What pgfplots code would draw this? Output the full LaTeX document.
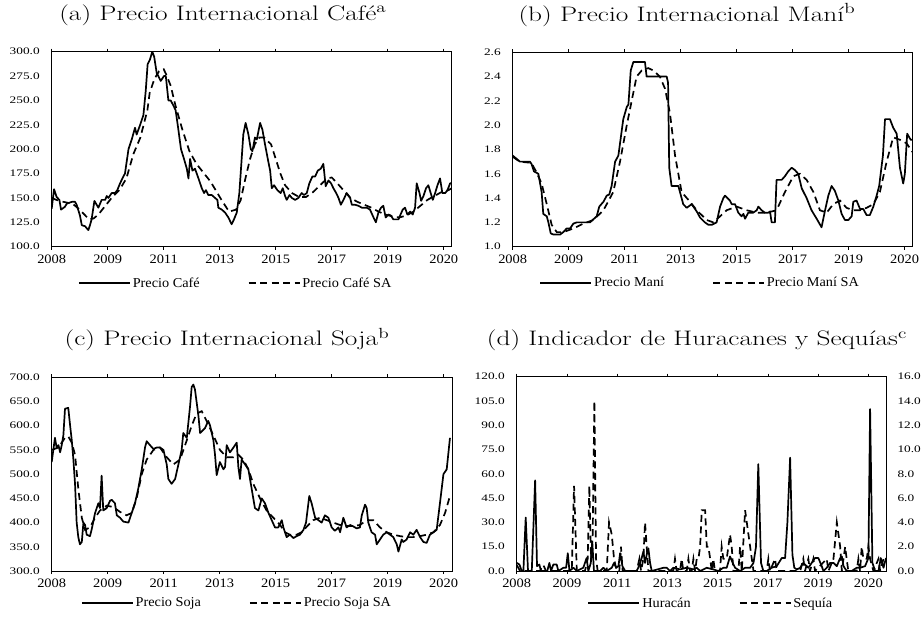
\documentclass[border=0pt]{standalone}
\usepackage{fontspec}
\usepackage{graphicx}
\usepackage{pgfplots}
\pgfplotsset{compat=1.18}
\newfontfamily\garaX{Liberation Serif}[FakeStretch=1.12]
\newfontfamily\garaY{Liberation Serif}[FakeStretch=1.33]
\newfontfamily\garaL{Liberation Serif}[FakeStretch=1.05]
\newcommand{\ttl}[1]{\scalebox{1.3}[1]{#1}}
\pgfplotsset{
  myax/.style={
    scale only axis, anchor=south west,
    xmin=0,
    xtick={0,24,48,72,96,120,144,168},
    xticklabels={2008,2009,2011,2013,2015,2017,2019,2020},
    /pgf/number format/assume math mode=true,
    yticklabel style={/pgf/number format/fixed, /pgf/number format/fixed zerofill, /pgf/number format/precision=1, font=\garaY\fontsize{10}{12}\selectfont, black},
    xticklabel style={font=\garaX\fontsize{12.9}{14}\selectfont, black, yshift=-1.5pt},
    tick align=outside, major tick length=3pt,
    xtick style={black, line width=0.8pt},
    ytick style={draw=none},
    axis line style={line width=0.9pt, black},
    title style={font=\fontsize{21}{25}\selectfont, anchor=base},
    legend style={draw=none, fill=none, font=\garaL\fontsize{13.6}{15}\selectfont,
      anchor=center, /tikz/every even column/.append style={column sep=46pt}},
    legend columns=2,
    legend image code/.code={\draw[#1] (0pt,0pt) -- (51pt,0pt);},
  },
  cur/.style={black, no marks, line width=1.7pt, line join=round},
  sa/.style={black, no marks, line width=1.7pt, dash pattern=on 7pt off 4.5pt},
}
\begin{document}
\begin{tikzpicture}
\useasboundingbox (0,0) rectangle (923pt,619pt);
% ---------------- (a) Cafe
\begin{axis}[myax, at={(51.7pt,372.3pt)}, width=400pt, height=195pt,
  xmax=171.4, ymin=100, ymax=300, ytick={100,125,...,300},
  yticklabel style={xshift=-5.5pt},
  title={\ttl{(a) Precio Internacional Café\textsuperscript{a}}},
  title style={at={(0.428,1)}, yshift=25.2pt},
  legend style={at={(0.46,-0.186)}}]
\addplot[cur] coordinates {(0,139)(1,159)(2.1,151)(3.3,148)(4,138)(5.7,141)(6.4,144)(8.6,146)(10,146)(10.7,143)(12.1,132)(12.9,122)(14.3,121)(15.7,117)(16.4,122)(17.1,128)(18.3,147)(20,140)(21.4,148)(22.9,148)(23.6,152)(24.3,150)(25.7,155)(27.1,155)(28.1,158)(29.3,165)(30.7,172)(31.4,175)(32.9,200)(34.3,210)(35.7,222)(36.4,215)(37.9,225)(39.3,235)(40.3,260)(41.1,287)(42.1,292)(43.1,300)(43.9,295)(45,278)(45.7,275)(46.7,270)(48.1,275)(48.9,275)(50,250)(51,250)(52.1,245)(53.1,240)(54,225)(55.4,200)(56.7,190)(57.9,180)(58.6,170)(59.3,190)(60.3,178)(61.4,180)(62.9,170)(64.3,160)(65.3,155)(66.1,158)(67.1,153)(68.6,153)(70,150)(71,148)(71.4,140)(72.9,138)(74.3,135)(75.7,130)(77.1,123)(78.1,128)(79.3,135)(80.4,155)(81.4,190)(82.1,215)(83.1,227)(84.3,215)(85.3,200)(86,198)(87.1,212)(87.9,210)(89.3,227)(90.3,220)(91.4,205)(92.6,190)(93.6,178)(94.3,160)(95.3,163)(96.7,158)(98.1,155)(99,160)(100,152)(100.7,148)(101.9,153)(102.9,150)(104.3,148)(105.7,150)(107.1,155)(108.1,153)(109.3,155)(110.4,165)(111.7,172)(112.9,172)(114,178)(115.3,180)(116.4,185)(117.4,162)(118.6,168)(119.7,165)(120.7,160)(121.9,155)(122.9,150)(123.9,143)(125,148)(126.4,155)(127.9,150)(128.6,143)(130,143)(131.4,142)(132.9,140)(135,140)(136.4,138)(137.9,130)(138.9,125)(140,135)(141.1,140)(142.1,142)(143.1,130)(144.3,133)(145.3,132)(146.4,128)(148.6,128)(149.3,132)(150.4,138)(151.4,140)(152.4,133)(153.6,136)(154.7,133)(155.7,140)(156.4,165)(157.6,155)(158.3,147)(159.3,152)(160.4,160)(161.4,163)(162.4,155)(163.3,148)(164.3,155)(165.3,163)(166.4,170)(167.4,155)(168.6,155)(169.6,158)(170.7,165)(171.4,165)};
\addlegendentry{Precio Café}
\addplot[sa] coordinates {(0,150)(2,148)(5,146)(9,144)(12,138)(14,133)(16,128)(18,129)(20,133)(21,136)(24,145)(26,151)(29,158)(32,170)(35,195)(38,212)(41,240)(42,258)(44,272)(46,280)(48,282)(49,277)(51,265)(53,245)(56,220)(59,198)(62,185)(65,176)(68,167)(71,155)(73,147)(76,136)(79,138)(81,148)(83,170)(85,190)(87,205)(89,212)(91,212)(94,205)(96,190)(98,175)(100,163)(103,155)(106,151)(109,151)(112,156)(115,163)(118,170)(120,171)(122,166)(125,158)(128,150)(131,146)(134,143)(137,140)(140,136)(143,133)(146,131)(149,130)(152,132)(155,136)(158,142)(161,148)(164,152)(167,156)(170,158)(171.4,160)};
\addlegendentry{Precio Café SA}
\end{axis}
% ---------------- (b) Mani
\begin{axis}[myax, at={(512.7pt,372.3pt)}, width=399.6pt, height=194.4pt,
  xmax=171.3, ymin=1.0, ymax=2.6, ytick={1.0,1.2,...,2.61},
  yticklabel style={xshift=-5.5pt},
  title={\ttl{(b) Precio Internacional Maní\textsuperscript{b}}},
  title style={at={(0.436,1)}, yshift=25.2pt},
  legend style={at={(0.469,-0.186)}}]
\addplot[cur] coordinates {(0,1.75)(3.1,1.70)(7.4,1.70)(8.1,1.68)(9.1,1.62)(11,1.60)(12.4,1.45)(13.1,1.27)(14.6,1.25)(15.3,1.20)(16.3,1.11)(17.4,1.10)(20.3,1.10)(21.7,1.12)(23.1,1.15)(24.6,1.15)(26,1.19)(27.4,1.20)(33.1,1.20)(36,1.25)(37.1,1.33)(38.9,1.37)(40.3,1.42)(41.4,1.43)(42.4,1.50)(43.9,1.70)(45.3,1.75)(47.4,2.05)(48.9,2.15)(49.6,2.17)(50.6,2.45)(51.7,2.52)(56.7,2.52)(57.4,2.40)(66,2.40)(66.6,2.35)(67.1,1.65)(68.1,1.50)(71,1.50)(73.1,1.35)(74.6,1.32)(76.7,1.35)(78.9,1.29)(80.3,1.24)(82.4,1.20)(83.9,1.18)(85.3,1.18)(87.4,1.20)(88.9,1.33)(90.3,1.40)(91,1.42)(93.1,1.38)(93.9,1.35)(95.3,1.35)(96.7,1.28)(98.1,1.25)(98.9,1.27)(99.6,1.23)(101,1.28)(103.1,1.28)(104.6,1.30)(105.3,1.33)(106.7,1.30)(108.1,1.28)(109.6,1.28)(110.3,1.29)(111,1.20)(112.4,1.20)(113.1,1.55)(115.3,1.55)(116.7,1.58)(118.1,1.62)(119.6,1.65)(121,1.63)(122.4,1.60)(123.9,1.48)(126,1.40)(128.1,1.30)(130.3,1.23)(132.4,1.16)(133.9,1.30)(135.3,1.42)(136.7,1.50)(138.1,1.46)(139.6,1.38)(141,1.27)(142.4,1.22)(143.9,1.22)(145.3,1.25)(146,1.37)(147.4,1.38)(148.9,1.31)(150.3,1.31)(151.7,1.26)(153.1,1.26)(154.6,1.33)(156,1.42)(157.1,1.50)(158.7,1.75)(159.6,2.05)(161.7,2.05)(163.1,1.98)(164.6,1.93)(166,1.65)(167.4,1.52)(168.1,1.60)(169.1,1.93)(170.6,1.88)(171.3,1.88)};
\addlegendentry{Precio Maní}
\addplot[sa] coordinates {(0,1.74)(3,1.70)(8,1.69)(10,1.62)(12.4,1.52)(14.6,1.35)(16.7,1.18)(18.9,1.12)(21.7,1.12)(26,1.15)(30.3,1.19)(34.6,1.22)(38.9,1.30)(43.1,1.45)(46,1.70)(48.9,2.00)(51,2.20)(53.1,2.40)(55.3,2.45)(58.1,2.47)(60.3,2.45)(63.1,2.40)(65.3,2.30)(67.4,2.10)(69.6,1.75)(72.4,1.45)(76,1.37)(78.9,1.30)(83.1,1.22)(86,1.20)(88.9,1.25)(91.7,1.30)(96,1.33)(100.3,1.30)(104.6,1.28)(108.9,1.28)(113.1,1.30)(116.7,1.45)(120.3,1.58)(123.1,1.60)(126,1.55)(128.9,1.45)(131.7,1.30)(134.6,1.28)(137.4,1.35)(140.3,1.38)(143.1,1.32)(146,1.30)(148.9,1.30)(151.7,1.32)(154.6,1.35)(157.4,1.45)(160.3,1.70)(163.1,1.90)(166,1.88)(168.9,1.85)(171.3,1.78)};
\addlegendentry{Precio Maní SA}
\end{axis}
% ---------------- (c) Soja
\begin{axis}[myax, at={(51.7pt,48pt)}, width=400.6pt, height=193.7pt,
  xmax=171.7, ymin=300, ymax=700, ytick={300,350,...,700},
  yticklabel style={xshift=-5.5pt},
  title={\ttl{(c) Precio Internacional Soja\textsuperscript{b}}},
  title style={at={(0.4376,1)}, yshift=25.6pt},
  legend style={at={(0.4625,-0.165)}}]
\addplot[cur] coordinates {(0,525)(0.7,550)(1.4,575)(2.1,555)(2.9,560)(3.6,545)(4.3,560)(5,580)(5.7,635)(7.1,637)(7.9,600)(8.6,570)(9.3,530)(10,480)(10.7,400)(11.4,370)(12.1,355)(12.9,360)(13.6,400)(14.3,395)(15,375)(16.4,372)(17.1,385)(18.6,420)(19.3,430)(20,440)(20.7,430)(21.4,497)(22.1,425)(23.6,430)(25,445)(25.7,447)(27.1,440)(27.9,415)(29.3,410)(30.7,402)(32.9,400)(34.3,420)(35.7,440)(37.1,470)(38.6,510)(40,555)(40.7,568)(42.1,560)(43.6,552)(45,555)(46.4,555)(47.9,550)(49.3,520)(50,490)(51.4,480)(52.9,490)(54.3,520)(55.7,550)(56.4,585)(57.9,575)(59.3,640)(60,680)(60.7,685)(61.4,675)(62.9,620)(63.6,585)(65.7,595)(67.1,610)(67.9,600)(69.3,570)(70,540)(70.7,498)(72.1,525)(73.6,510)(74.3,515)(75,560)(76.4,545)(77.9,555)(79.3,565)(80,515)(80.7,490)(81.4,530)(82.9,520)(84.3,510)(85.7,470)(87.1,430)(88.6,425)(90,450)(91.4,440)(92.9,420)(94.3,405)(95.7,390)(97.1,390)(98.6,405)(99.3,390)(100.7,370)(102.1,375)(103.6,368)(105,372)(106.4,375)(107.9,385)(109,400)(110.4,455)(111.4,440)(112.9,410)(114.3,405)(115.7,400)(117.1,415)(118.6,410)(120,390)(121.4,383)(122.9,390)(123.6,380)(125,410)(126.4,390)(127.9,395)(129.3,392)(130.7,388)(132.1,390)(132.9,415)(134.3,437)(135,430)(135.7,400)(137.1,380)(138.6,375)(139.3,355)(140.7,365)(142.1,375)(143.6,380)(145,375)(146.4,370)(147.9,355)(148.6,340)(150,365)(150.7,360)(152.1,365)(153.6,380)(155,375)(156.4,385)(157.9,370)(159.3,360)(160.7,358)(162.1,375)(163.6,380)(165,385)(166.4,440)(167.9,500)(169.3,510)(170.7,575)};
\addlegendentry{Precio Soja}
\addplot[sa] coordinates {(0,550)(2.9,555)(5.7,575)(7.1,578)(8.6,565)(10,540)(11.4,470)(12.9,410)(14.3,385)(16.4,390)(18.6,410)(20.7,425)(23.6,435)(26.4,432)(29.3,422)(32.1,415)(34.3,420)(36.4,450)(38.6,500)(40.7,530)(43.6,550)(46.4,555)(49.3,535)(52.1,520)(55,530)(57.9,570)(60,600)(62.1,625)(64.3,630)(66.4,610)(69.3,580)(72.1,550)(75,535)(77.9,535)(80,540)(82.1,530)(84.3,510)(86.4,480)(89.3,450)(92.1,425)(95,410)(97.9,395)(100,380)(102.1,375)(105,375)(107.1,380)(110,395)(112.1,405)(115,410)(117.9,405)(120.7,400)(123.6,395)(126.4,393)(129.3,393)(132.1,395)(135,405)(137.9,405)(140.7,390)(143.6,380)(146.4,375)(149.3,372)(152.1,370)(155,370)(157.9,372)(160.7,375)(163.6,380)(166.4,395)(168.6,420)(170.7,455)};
\addlegendentry{Precio Soja SA}
\end{axis}
% ---------------- (d) Huracanes y Sequias
\begin{axis}[myax, at={(516.7pt,48pt)}, width=369.3pt, height=194.3pt,
  xmax=176.4, ymin=0, ymax=120, ytick={0,15,...,120}, ytick pos=left,
  yticklabel style={xshift=-5.5pt},
  title={\ttl{(d) Indicador de Huracanes y Sequías\textsuperscript{c}}},
  title style={at={(0.488,1)}, yshift=25pt}]
\addplot[cur] coordinates {(0,5)(1.3,4)(2.4,0)(3.2,0)(4.3,33)(5.4,0)(7.2,0)(8.8,56)(9.7,3)(10.8,4)(11.6,0)(14.6,0)(15.6,5)(16.4,0)(17.5,4)(19.1,4)(19.9,0)(22.3,2)(23.6,2)(24.4,11)(25.2,0)(27.1,2)(28.7,0)(31.8,2)(33.4,8)(34.2,0)(35.4,5)(36.1,18)(36.9,0)(39.8,0)(41.4,2)(43,0)(45.4,2)(46.5,5)(47.5,2)(48.6,3)(49.4,11)(50.5,3)(51.8,0)(57.3,0)(58.4,3)(59.7,8)(60.5,12)(61.3,5)(62.1,10)(62.9,14)(63.7,5)(64.5,0)(70.1,2)(71.7,2)(73.2,0)(74.8,2)(78,1)(81.2,2)(84.4,1)(86,2)(87.6,0)(90.8,2)(93.9,1)(96.3,0)(98.7,2)(100.3,2)(101.9,9)(103.2,5)(104.3,2)(106.7,0)(109.1,2)(111.5,2)(113.1,5)(114.3,15)(115.4,66)(116.7,5)(117.8,0)(119.4,0)(121.8,2)(124.2,3)(126.6,8)(128.2,8)(129.3,30)(130.6,70)(131.7,10)(132.6,2)(133.8,1)(135.4,2)(136.9,5)(139.3,2)(140.9,5)(142.5,8)(144.1,8)(145.7,3)(146.5,0)(148.1,2)(149.7,5)(151.3,5)(152.9,3)(154.5,8)(155.3,9)(156.1,3)(157.6,0)(160,0)(162.4,2)(164,2)(166.4,3)(168,8)(168.8,100)(169.9,5)(171.2,0)(172.8,0)(173.9,8)(175.2,2)(176.4,8)};
\end{axis}
\begin{axis}[myax, at={(516.7pt,48pt)}, width=369.3pt, height=194.3pt,
  xmax=176.4, ymin=0, ymax=16, ytick={0,2,...,16}, ytick pos=right,
  yticklabel style={xshift=5pt},
  xtick=\empty,
  legend style={at={(0.526,-0.165)}}]
\addlegendimage{cur}
\addlegendentry{Huracán}
\addplot[sa] coordinates {(0,0.5)(1.6,0)(11.1,0)(12.7,0.5)(14,0)(26.3,0)(27.4,7)(28.7,0)(32.6,0)(33.9,1)(34.7,7)(35.5,1)(36.3,3)(37.1,14)(37.9,1)(38.7,0)(43,0)(44.1,4)(45.4,3)(46.5,1)(47.8,0)(49,0)(49.8,2)(50.6,0)(57.3,0)(58.6,1)(59.4,0)(60.5,1)(61.3,4)(62.1,2)(62.9,0)(74.8,0)(75.6,1)(76.4,0)(78,0)(78.8,1)(79.6,0)(81.2,0)(82,1)(82.8,0)(83.6,0)(84.4,1)(85.2,0)(86,1)(86.8,1)(87.6,2)(88.4,5)(90,5)(90.8,2)(91.6,2)(92.4,1)(93.2,0)(93.9,1)(94.7,0)(97.1,0)(97.9,2)(98.7,1)(100.3,1)(101.9,3)(102.7,2)(103.5,0)(105.9,0)(106.7,2)(107.5,0)(109.1,5)(110.7,3)(112.3,1)(113.1,0)(119.4,0)(120.2,1)(121,0)(123.4,1)(124.2,0)(135.4,0)(136.9,1)(137.7,0)(139.3,1)(140.1,0)(141.7,1)(142.5,0)(148.1,1)(148.9,0)(151.3,1)(152.9,4)(154.5,2)(155.3,0)(156.1,1)(156.9,2)(157.6,1)(158.4,0)(162.4,0)(163.2,1)(164,0)(164.8,2)(165.6,1)(167.2,1)(168,2)(168.8,1)(170.4,0)(172.8,1)(173.6,0)(175.2,1)(176.4,1)};
\addlegendentry{Sequía}
\end{axis}
\end{tikzpicture}
\end{document}
